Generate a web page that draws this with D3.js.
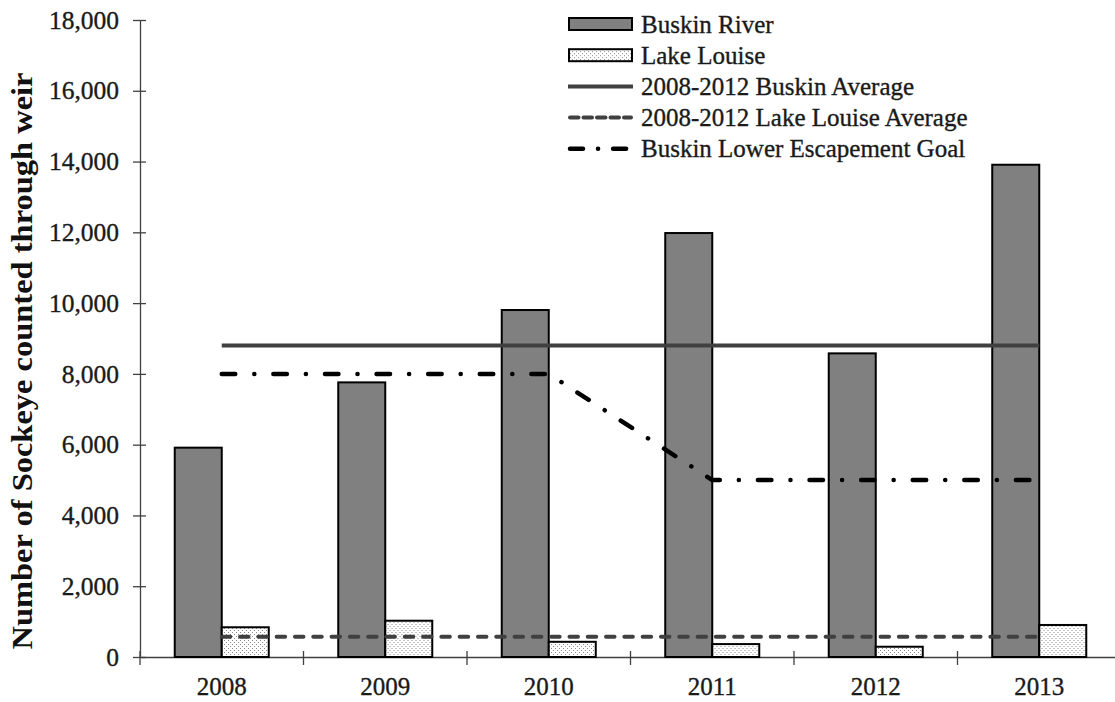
<!DOCTYPE html>
<html>
<head>
<meta charset="utf-8">
<script src="https://cdn.jsdelivr.net/npm/d3@7"></script>
<style>
  body { margin: 0; background: #fff; }
  svg text { font-family: "Liberation Serif", "Times New Roman", serif; fill: #1a1a1a; }
  .regular { stroke: #1a1a1a; stroke-width: 0.35px; }
</style>
</head>
<body>
<div id="chart"></div>
<script>
// Data
const years = ["2008", "2009", "2010", "2011", "2012", "2013"];
const buskinRiver = [5915, 7760, 9805, 11980, 8580, 13910];
const lakeLouise = [840, 1025, 430, 365, 290, 905];
const buskinAverage = [8800, 8800, 8800, 8800, 8800, 8800];
const lakeLouiseAverage = [575, 575, 575, 575, 575, 575];
const escapementGoal = [8000, 8000, 8000, 5000, 5000, 5000];
const yTicks = [0, 2000, 4000, 6000, 8000, 10000, 12000, 14000, 16000, 18000];

const width = 1115;
const height = 702;
const margin = { left: 140, right: -6, top: 20, bottom: 45 };

const svg = d3.select("#chart")
    .append("svg")
    .attr("width", width)
    .attr("height", height);

// dotted fill for Lake Louise bars
const defs = svg.append("defs");
const pat = defs.append("pattern")
    .attr("id", "dots")
    .attr("patternUnits", "userSpaceOnUse")
    .attr("width", 4)
    .attr("height", 4);
pat.append("rect").attr("width", 4).attr("height", 4).attr("fill", "#fff");
pat.append("rect").attr("x", 0).attr("y", 0).attr("width", 1).attr("height", 1).attr("fill", "#8a8a8a");
pat.append("rect").attr("x", 2).attr("y", 2).attr("width", 1).attr("height", 1).attr("fill", "#8a8a8a");

const x0 = d3.scaleBand()
    .domain(years)
    .range([margin.left, width - margin.right])
    .padding(0);

const x1 = d3.scaleBand()
    .domain(["buskin", "louise"])
    .range([0, x0.bandwidth()])
    .paddingInner(0)
    .paddingOuter(0.739);

const y = d3.scaleLinear()
    .domain([0, 18000])
    .range([height - margin.bottom, margin.top]);

const fmt = d3.format(",");

// Y axis
const yAxis = svg.append("g")
    .attr("transform", `translate(${margin.left},0)`)
    .call(d3.axisLeft(y).tickValues(yTicks).tickFormat(fmt).tickSizeInner(7).tickSizeOuter(0).tickPadding(14));
yAxis.select(".domain").attr("stroke", "#404040").attr("stroke-width", 1.3);
yAxis.selectAll(".tick line").attr("x2", 6).attr("x1", -7).attr("stroke", "#404040").attr("stroke-width", 1.3);
yAxis.selectAll(".tick text").attr("font-size", 25.5).attr("fill", "#1a1a1a").attr("class", "regular");

// X axis
const xAxis = svg.append("g")
    .attr("transform", `translate(0,${y(0)})`)
    .call(d3.axisBottom(x0).tickSize(0).tickPadding(20));
xAxis.select(".domain").attr("stroke", "#404040").attr("stroke-width", 1.3);
xAxis.selectAll(".tick text").attr("font-size", 25).attr("fill", "#1a1a1a").attr("class", "regular");

// category boundary ticks
const bounds = years.map(d => x0(d));
svg.append("g")
    .selectAll("line")
    .data(bounds)
    .enter().append("line")
    .attr("x1", d => d)
    .attr("x2", d => d)
    .attr("y1", y(0) - 6)
    .attr("y2", y(0) + 8)
    .attr("stroke", "#404040")
    .attr("stroke-width", 1.3);

// Y axis title
svg.append("text")
    .attr("transform", "translate(32,361) rotate(-90)")
    .attr("text-anchor", "middle")
    .attr("font-size", 30)
    .attr("font-weight", "bold")
    .attr("textLength", 577)
    .attr("lengthAdjust", "spacingAndGlyphs")
    .style("fill", "#111")
    .text("Number of Sockeye counted through weir");

// Bars
const groups = svg.append("g")
    .selectAll("g")
    .data(years)
    .enter().append("g")
    .attr("transform", d => `translate(${x0(d)},0)`);

groups.append("rect")
    .attr("x", x1("buskin"))
    .attr("y", (d, i) => y(buskinRiver[i]))
    .attr("width", x1.bandwidth())
    .attr("height", (d, i) => y(0) - y(buskinRiver[i]))
    .attr("fill", "#808080")
    .attr("stroke", "#000")
    .attr("stroke-width", 2);

groups.append("rect")
    .attr("x", x1("louise"))
    .attr("y", (d, i) => y(lakeLouise[i]))
    .attr("width", x1.bandwidth())
    .attr("height", (d, i) => y(0) - y(lakeLouise[i]))
    .attr("fill", "url(#dots)")
    .attr("stroke", "#000")
    .attr("stroke-width", 2);

// Lines
const cx = d => x0(d) + x0.bandwidth() / 2;
const line = d3.line().x((d, i) => cx(years[i])).y(d => y(d));

svg.append("path")
    .attr("d", line(buskinAverage))
    .attr("fill", "none")
    .attr("stroke", "#404040")
    .attr("stroke-width", 4);

svg.append("path")
    .attr("d", line(lakeLouiseAverage))
    .attr("fill", "none")
    .attr("stroke", "#404040")
    .attr("stroke-width", 4)
    .attr("stroke-linecap", "round")
    .attr("stroke-dasharray", "8.5,9.8");

svg.append("path")
    .attr("d", line(escapementGoal))
    .attr("fill", "none")
    .attr("stroke", "#000")
    .attr("stroke-width", 4.5)
    .attr("stroke-linecap", "round")
    .attr("stroke-dasharray", "13.5,19,0.1,19");

// Legend
const legendItems = [
    { label: "Buskin River", type: "bar", fill: "#808080" },
    { label: "Lake Louise", type: "bar", fill: "url(#dots)" },
    { label: "2008-2012 Buskin Average", type: "line", color: "#404040", dash: null, w: 4, cap: "butt" },
    { label: "2008-2012 Lake Louise Average", type: "line", color: "#404040", dash: "8.5,5", w: 4, cap: "round" },
    { label: "Buskin Lower Escapement Goal", type: "line", color: "#000", dash: "13,15,0.1,15", w: 4.5, cap: "round" }
];

const legend = svg.append("g")
    .selectAll("g")
    .data(legendItems)
    .enter().append("g")
    .attr("transform", (d, i) => `translate(568,${24 + i * 31.2})`);

legend.filter(d => d.type === "bar")
    .append("rect")
    .attr("x", 1)
    .attr("y", -6)
    .attr("width", 63)
    .attr("height", 12)
    .attr("fill", d => d.fill)
    .attr("stroke", "#000")
    .attr("stroke-width", 2);

legend.filter(d => d.type === "line")
    .append("line")
    .attr("x1", d => d.cap === "round" ? 2 : 0)
    .attr("x2", d => d.cap === "round" ? 63 : 65)
    .attr("y1", 0)
    .attr("y2", 0)
    .attr("stroke", d => d.color)
    .attr("stroke-width", d => d.w)
    .attr("stroke-linecap", d => d.cap)
    .attr("stroke-dasharray", d => d.dash);

legend.append("text")
    .attr("class", "regular")
    .attr("x", 73)
    .attr("y", 8.5)
    .attr("font-size", 25)
    .text(d => d.label);
</script>
</body>
</html>
